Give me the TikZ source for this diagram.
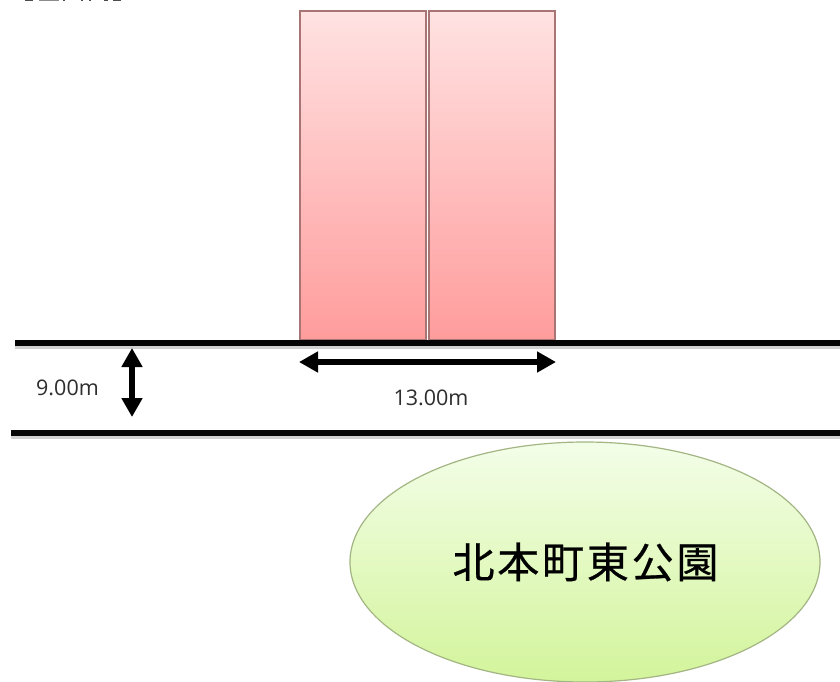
\documentclass[tikz,border=0pt]{standalone}
\usepackage{fontspec}
\setmainfont{Open Sans}
\newfontfamily\cjkjp[FakeBold=0.6]{Noto Sans CJK JP}
\usetikzlibrary{arrows.meta,shapes.geometric}
\definecolor{roadblack}{HTML}{050505}
\definecolor{bldedge}{HTML}{A87474}
\definecolor{bldtop}{HTML}{FFE2E2}
\definecolor{bldbot}{HTML}{FF9C9C}
\definecolor{parkedge}{HTML}{A3B583}
\definecolor{parktop}{HTML}{F3FEE8}
\definecolor{parkbot}{HTML}{D3F49B}
\tikzset{
  x=1pt,y=-1pt,
  building/.style={draw=bldedge,line width=1.2pt,top color=bldtop,bottom color=bldbot,minimum width=126pt,minimum height=329pt,inner sep=0pt,outer sep=0pt},
  park/.style={ellipse,draw=parkedge,line width=1.2pt,top color=parktop,bottom color=parkbot,minimum width=470pt,minimum height=240pt,inner sep=0pt},
  road/.style={line width=6pt,draw=roadblack},
  roadshade/.style={line width=9pt,draw=black!18},
  dim/.style={line width=6.5pt,draw=black,{Triangle[length=19pt,width=20pt]}-{Triangle[length=19pt,width=20pt]}},
  dimlabel/.style={font=\fontsize{21.5}{24}\selectfont,text=black!82,inner sep=0pt},
  toptext/.style={fill=black!70,draw=none}
}
\begin{document}
\begin{tikzpicture}
\useasboundingbox (0,0) rectangle (840,681);
\fill[white] (0,0) rectangle (840,681);
% clipped top line of the page heading
\fill[toptext] (25,0) rectangle (33,1);
\fill[black!45] (39,0) rectangle (59,1);
\fill[toptext] (63,0) rectangle (65,1);
\fill[toptext] (81,0) rectangle (83,1);
\fill[toptext] (89,0) rectangle (91,1);
\fill[toptext] (104,0) rectangle (108,1);
\fill[toptext] (113,0) rectangle (121,1);
% buildings
\node[building] (bldA) at (363,175.5) {};
\node[building] (bldB) at (492,175.5) {};
% park
\node[park] (parkArea) at (585,562) {};
\node[font=\cjkjp\fontsize{42}{46}\selectfont,text=black,inner sep=0pt] (parkName) at (585.5,562) {北\hspace{2.8pt}本\hspace{2.8pt}町\hspace{2.8pt}東\hspace{2.8pt}公\hspace{2.8pt}園};
% roads
\coordinate (roadAw) at (15,343);
\coordinate (roadAe) at (840,343);
\coordinate (roadBw) at (11,433);
\coordinate (roadBe) at (840,433);
\draw[roadshade] ([yshift=-1.5pt]roadAw) -- ([yshift=-1.5pt]roadAe);
\draw[roadshade] ([yshift=-1.5pt]roadBw) -- ([yshift=-1.5pt]roadBe);
\draw[road] (roadAw) -- (roadAe);
\draw[road] (roadBw) -- (roadBe);
% dimensions
\coordinate (dimVa) at (132,348);
\coordinate (dimVb) at (132,417);
\coordinate (dimHa) at (299,362);
\coordinate (dimHb) at (556,362);
\draw[dim] (dimVa) -- (dimVb);
\draw[dim] (dimHa) -- (dimHb);
\node[dimlabel] (widthRoad) at (67.5,388) {9.00m};
\node[dimlabel] (widthFront) at (431,398) {13.00m};
\end{tikzpicture}
\end{document}
